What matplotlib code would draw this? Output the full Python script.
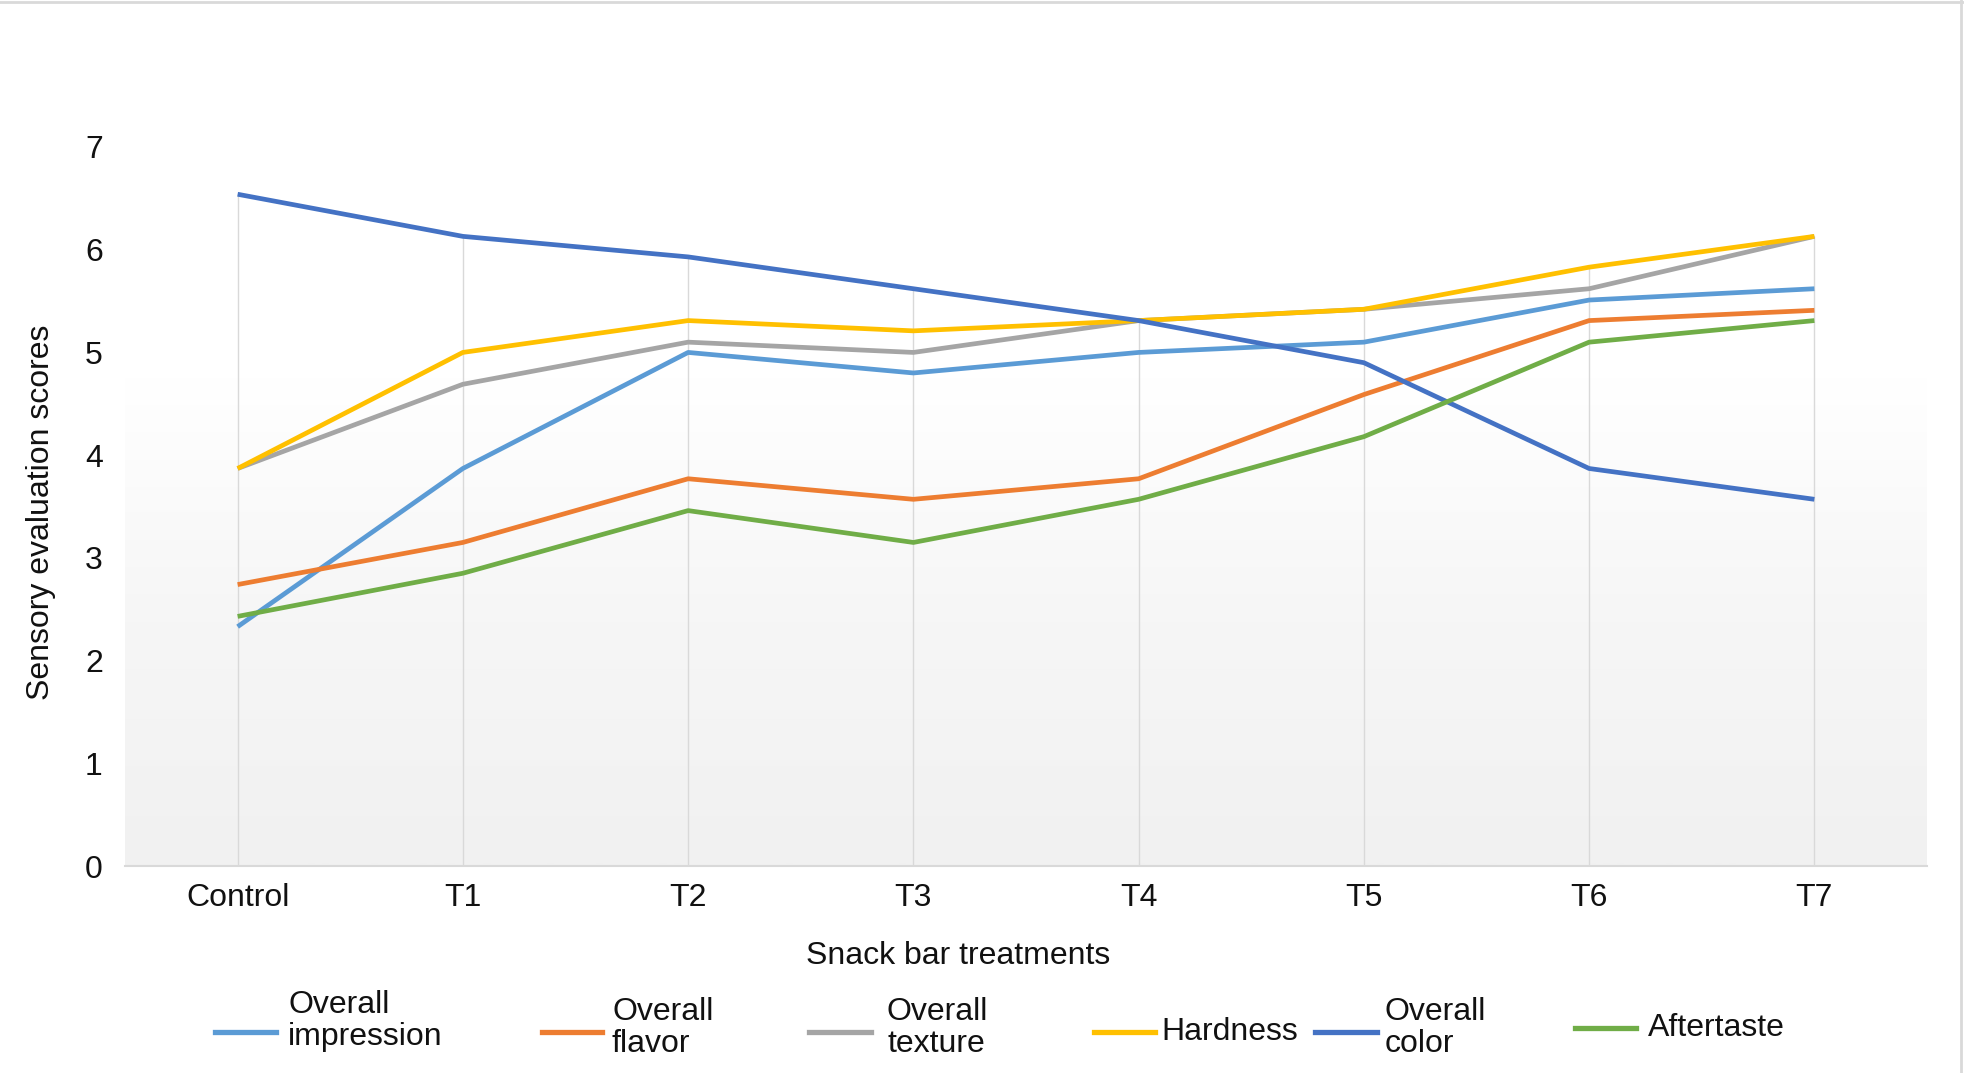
import numpy as np
import matplotlib
matplotlib.use("Agg")
import matplotlib.pyplot as plt
from matplotlib.lines import Line2D
from matplotlib.colors import LinearSegmentedColormap

plt.rcParams['font.family'] = ['Liberation Sans', 'DejaVu Sans']

categories = ["Control", "T1", "T2", "T3", "T4", "T5", "T6", "T7"]
overall_impression = [2.33, 3.87, 5.00, 4.80, 5.00, 5.10, 5.51, 5.62]
overall_flavor = [2.74, 3.15, 3.77, 3.57, 3.77, 4.59, 5.31, 5.41]
overall_texture = [3.87, 4.69, 5.10, 5.00, 5.31, 5.42, 5.62, 6.13]
hardness = [3.87, 5.00, 5.31, 5.21, 5.31, 5.42, 5.83, 6.13]
overall_color = [6.54, 6.13, 5.93, 5.62, 5.31, 4.90, 3.87, 3.57]
aftertaste = [2.43, 2.85, 3.46, 3.15, 3.57, 4.18, 5.10, 5.31]

series = [
    ("Overall\nimpression", overall_impression, "#5B9BD5"),
    ("Overall\nflavor", overall_flavor, "#ED7D31"),
    ("Overall\ntexture", overall_texture, "#A5A5A5"),
    ("Hardness", hardness, "#FFC000"),
    ("Overall\ncolor", overall_color, "#4472C4"),
    ("Aftertaste", aftertaste, "#70AD47"),
]

W, H = 1964, 1073
fig = plt.figure(figsize=(W / 100, H / 100), dpi=100)
fig.patch.set_facecolor("white")

left, right, bottom_px, top_px = 125, 1927, 866, 147
ax = fig.add_axes([left / W, 1 - bottom_px / H, (right - left) / W, (bottom_px - top_px) / H])
ax.set_facecolor("none")

# background gradient (white at top, light gray at bottom)
yy = np.linspace(1, 0, 400)[:, None]
grad = np.where(yy > 0.68, 1.0, yy / 0.68)
cmap = LinearSegmentedColormap.from_list("g", ["#f1f1f1", "#f6f6f6", "#ffffff"])
ax.imshow(grad, extent=[0, 1, 0, 1], transform=ax.transAxes, cmap=cmap,
          aspect="auto", zorder=0, vmin=0, vmax=1, interpolation="bilinear")

x = np.arange(len(categories))
# drop lines from the highest point of each category down to the axis
all_vals = np.array([vals for _, vals, _ in series])
ax.vlines(x, 0, all_vals.max(axis=0), color="#d9d9d9", lw=1.0, zorder=1)

for label, vals, color in series:
    ax.plot(x, vals, color=color, lw=3.4, solid_capstyle="butt", zorder=3)

ax.set_xlim(-0.5, len(categories) - 0.5)
ax.set_ylim(0, 7)
ax.set_yticks(range(0, 8))
ax.set_xticks(x)
ax.set_xticklabels(categories)
ax.grid(False)
for s in ["top", "right", "left"]:
    ax.spines[s].set_visible(False)
ax.spines["bottom"].set_color("#d9d9d9")
ax.spines["bottom"].set_linewidth(1.5)
ax.tick_params(axis="both", length=0, labelsize=23, colors="#111111")
ax.tick_params(axis="x", pad=12)
ax.tick_params(axis="y", pad=16)

fig.text(41 / W, 1 - 512 / H, "Sensory evaluation scores", rotation=90,
         ha="center", va="center", fontsize=23, color="#111111")
fig.text(958 / W, 1 - 956 / H, "Snack bar treatments", ha="center", va="center",
         fontsize=23, color="#111111")

# legend (manual layout to mirror the reference)
handles = [(215, 276, 288, 1021, 1032), (542, 602, 612, 1028, 1032),
           (809, 871, 887, 1028, 1032), (1094, 1155, 1161, 1032, 1032),
           (1315, 1377, 1385, 1028, 1032), (1575, 1636, 1648, 1028, 1028)]
for (label, vals, color), (x0, x1, xt, yt, yl) in zip(series, handles):
    fig.add_artist(Line2D([x0 / W, x1 / W], [1 - yl / H, 1 - yl / H], color=color,
                          lw=3.8, transform=fig.transFigure))
    fig.text(xt / W, 1 - yt / H, label, ha="left", va="center", fontsize=23,
             linespacing=1.1, color="#111111")

# figure frame (top and right edges visible)
fig.add_artist(Line2D([0, 1], [1 - 2 / H, 1 - 2 / H], color="#d9d9d9", lw=2,
                      transform=fig.transFigure))
fig.add_artist(Line2D([1 - 3 / W, 1 - 3 / W], [0, 1], color="#d9d9d9", lw=2,
                      transform=fig.transFigure))

fig.savefig("out.png", dpi=100)
